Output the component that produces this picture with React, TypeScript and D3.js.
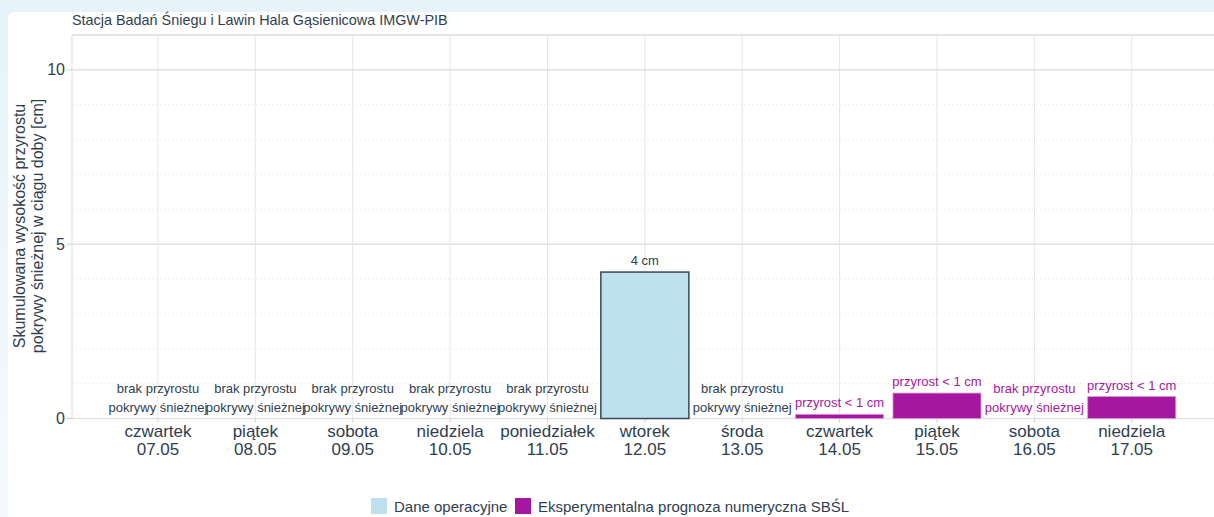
import React from "react";
import * as d3 from "d3";

const W = 1214;
const H = 517;

const TITLE = "Stacja Badań Śniegu i Lawin Hala Gąsienicowa IMGW-PIB";
const Y_TITLE = ["Skumulowana wysokość przyrostu", "pokrywy śnieżnej w ciągu doby [cm]"];
const DAYS = ["czwartek", "piątek", "sobota", "niedziela", "poniedziałek", "wtorek", "środa", "czwartek", "piątek", "sobota", "niedziela"];
const DATES = ["07.05", "08.05", "09.05", "10.05", "11.05", "12.05", "13.05", "14.05", "15.05", "16.05", "17.05"];
const OPERATIONAL: (number | null)[] = [0, 0, 0, 0, 0, 4.2, 0, null, null, null, null];
const FORECAST: (number | null)[] = [null, null, null, null, null, null, null, 0.12, 0.73, 0, 0.63];
const OP_LABELS = ["brak przyrostu|pokrywy śnieżnej", "brak przyrostu|pokrywy śnieżnej", "brak przyrostu|pokrywy śnieżnej", "brak przyrostu|pokrywy śnieżnej", "brak przyrostu|pokrywy śnieżnej", "4 cm", "brak przyrostu|pokrywy śnieżnej", "", "", "", ""];
const FC_LABELS = ["", "", "", "", "", "", "", "przyrost < 1 cm", "przyrost < 1 cm", "brak przyrostu|pokrywy śnieżnej", "przyrost < 1 cm"];
const Y_TICKS = [0, 5, 10];
const Y_MINOR = [1, 2, 3, 4, 6, 7, 8, 9];
const LEGEND = ["Dane operacyjne", "Eksperymentalna prognoza numeryczna SBŚL"];

const TEXT = "#2f3e50";
const BLUE = "#bde2ee";
const BLUE_STROKE = "#3a4858";
const PURPLE = "#a5179e";
const GRID = "#e6e6e6";
const FONT = "'Liberation Sans', Arial, sans-serif";

export default function App() {
  const left = 72, right = 1217.7, top = 35, bottom = 418.5;
  const x = d3.scaleLinear().domain([-0.883, 10.883]).range([left, right]);
  const y = d3.scaleLinear().domain([0, 11]).range([bottom, top]);
  const half = 0.452;

  const renderLabel = (label: string, i: number, v: number, color: string) => {
    if (!label) return null;
    const lines = label.split("|");
    const yt = y(v);
    return (
      <text key={"l" + i} x={x(i)} textAnchor="middle" fontSize={13} fill={color} fontFamily={FONT}>
        {lines.map((ln, k) => (
          <tspan key={k} x={x(i)} y={yt - 7 - (lines.length - 1 - k) * 19}>{ln}</tspan>
        ))}
      </text>
    );
  };

  return (
    <div style={{ position: "absolute", left: 0, top: 0, width: W, height: H }}>
      <svg width={W} height={H} style={{ display: "block" }}>
        <defs>
          <linearGradient id="lg" x1="0" y1="0" x2="0" y2="1">
            <stop offset="0" stopColor="#e6f3fb" />
            <stop offset="0.6" stopColor="#eef7fc" />
            <stop offset="1" stopColor="#f7fafc" />
          </linearGradient>
        </defs>
        <rect x={0} y={0} width={W} height={H} fill="url(#lg)" />
        <rect x={0} y={0} width={W} height={12} fill="#e6f3fb" />
        <rect x={8} y={12} width={W} height={H} rx={6} fill="#ffffff" />

        <text x={72} y={25} fontSize={14.4} fill={TEXT} fontFamily={FONT}>{TITLE}</text>

        {Y_MINOR.map((t) => (
          <line key={"m" + t} x1={left} x2={W} y1={y(t)} y2={y(t)} stroke="#e3e3e3" strokeDasharray="1,3" />
        ))}
        {DAYS.map((_, i) => (
          <line key={"v" + i} x1={x(i)} x2={x(i)} y1={top} y2={bottom} stroke={GRID} strokeWidth={1} />
        ))}
        {Y_TICKS.map((t) => (
          <line key={"g" + t} x1={left} x2={W} y1={y(t)} y2={y(t)} stroke="#e2e2e2" strokeWidth={1.5} />
        ))}
        <line x1={left} x2={W} y1={top} y2={top} stroke="#dcdcdc" strokeWidth={1.5} />
        <line x1={left} x2={left} y1={top} y2={bottom} stroke="#dcdcdc" strokeWidth={1} />

        {Y_TICKS.map((t) => (
          <g key={"yt" + t}>
            <line x1={left - 5} x2={left} y1={y(t)} y2={y(t)} stroke="#d0d0d0" />
            <text x={left - 7} y={y(t) + 5.5} textAnchor="end" fontSize={16} fill={TEXT} fontFamily={FONT}>{t}</text>
          </g>
        ))}

        {Y_TITLE.map((s, k) => (
          <text key={"ytl" + k} transform={`translate(${25 + k * 18},${226}) rotate(-90)`} textAnchor="middle" fontSize={16} fill={TEXT} fontFamily={FONT}>{s}</text>
        ))}

        {DAYS.map((d, i) => (
          <g key={"x" + i}>
            <line x1={x(i)} x2={x(i)} y1={bottom} y2={bottom + 4} stroke="#d0d0d0" />
            <text x={x(i)} y={437} textAnchor="middle" fontSize={17} fill={TEXT} fontFamily={FONT}>{d}</text>
            <text x={x(i)} y={455} textAnchor="middle" fontSize={17} fill={TEXT} fontFamily={FONT}>{DATES[i]}</text>
          </g>
        ))}

        {OPERATIONAL.map((v, i) =>
          v === null ? null : (
            <rect key={"o" + i} x={x(i - half)} width={x(half) - x(-half)} y={y(v)} height={y(0) - y(v)} fill={BLUE} stroke={v === 0 ? "#9aa3ad" : BLUE_STROKE} strokeWidth={v === 0 ? 1 : 1.5} />
          )
        )}
        {FORECAST.map((v, i) =>
          v === null ? null : (
            <rect key={"f" + i} x={x(i - half)} width={x(half) - x(-half)} y={y(v)} height={y(0) - y(v)} fill={PURPLE} stroke={v === 0 ? PURPLE : "#d69ad2"} strokeWidth={v === 0 ? 1 : 0.8} />
          )
        )}

        {OPERATIONAL.map((v, i) => (v === null ? null : renderLabel(OP_LABELS[i], i, v, TEXT)))}
        {FORECAST.map((v, i) => (v === null ? null : renderLabel(FC_LABELS[i], i, v, PURPLE)))}

        <rect x={371} y={498} width={16} height={16} fill={BLUE} />
        <text x={394} y={512} fontSize={15} fill={TEXT} fontFamily={FONT}>{LEGEND[0]}</text>
        <rect x={515} y={498} width={16} height={16} fill={PURPLE} />
        <text x={538} y={512} fontSize={15} fill={TEXT} fontFamily={FONT}>{LEGEND[1]}</text>
      </svg>
    </div>
  );
}
